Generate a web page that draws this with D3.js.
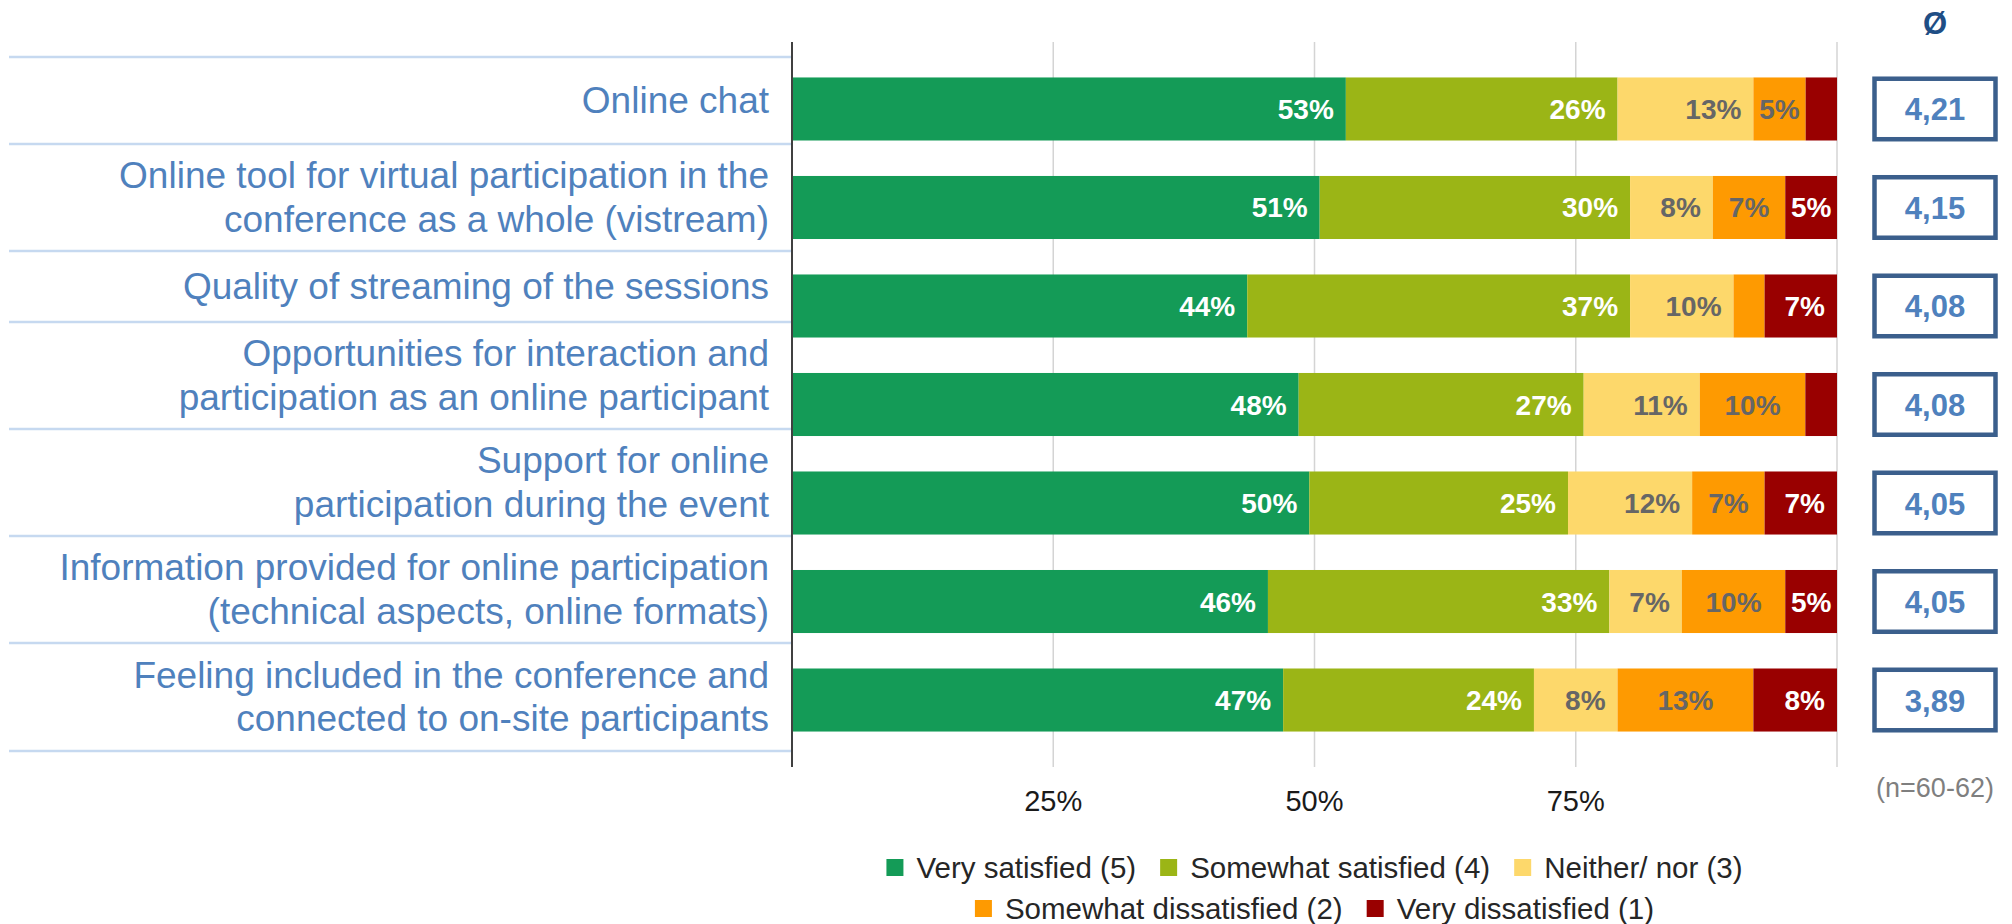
<!DOCTYPE html>
<html>
<head>
<meta charset="utf-8">
<script src="https://cdn.jsdelivr.net/npm/d3@7"></script>
<style>
  html, body { margin: 0; padding: 0; background: #fff; }
  svg { display: block; font-family: "Liberation Sans", Arial, sans-serif; }
</style>
</head>
<body>
<svg id="chart"></svg>
<script>
// data
const categories = [
  'Online chat',
  'Online tool for virtual participation in the\nconference as a whole (vistream)',
  'Quality of streaming of the sessions',
  'Opportunities for interaction and\nparticipation as an online participant',
  'Support for online\nparticipation during the event',
  'Information provided for online participation\n(technical aspects, online formats)',
  'Feeling included in the conference and\nconnected to on-site participants'
];
const seriesNames = ['Very satisfied (5)', 'Somewhat satisfied (4)', 'Neither/ nor (3)',
  'Somewhat dissatisfied (2)', 'Very dissatisfied (1)'];
const verySatisfied        = [53, 51, 44, 48, 50, 46, 47];
const somewhatSatisfied    = [26, 30, 37, 27, 25, 33, 24];
const neither              = [13, 8, 10, 11, 12, 7, 8];
const somewhatDissatisfied = [5, 7, 3, 10, 7, 10, 13];
const veryDissatisfied     = [3, 5, 7, 3, 7, 5, 8];
const averages = [4.21, 4.15, 4.08, 4.08, 4.05, 4.05, 3.89];
const xTicks = [0.25, 0.5, 0.75, 1];
const sampleNote = '(n=60-62)';

const colors = ['#149b57', '#9bb516', '#fdd86b', '#fe9a01', '#990000'];
const labelColors = ['#fff', '#fff', '#666', '#666', '#fff'];

const width = 2012, height = 924;
const svg = d3.select('#chart').attr('width', width).attr('height', height);

const keys = seriesNames;
const rows = categories.map((c, i) => ({
  cat: c,
  [keys[0]]: verySatisfied[i],
  [keys[1]]: somewhatSatisfied[i],
  [keys[2]]: neither[i],
  [keys[3]]: somewhatDissatisfied[i],
  [keys[4]]: veryDissatisfied[i]
}));

const stacked = d3.stack().keys(keys).offset(d3.stackOffsetExpand)(rows);

const x = d3.scaleLinear().domain([0, 1]).range([792, 1837]);
const y = d3.scaleBand().domain(categories).range([42, 767])
  .paddingInner(0.36).paddingOuter(0.36);

// left label table, rows are not evenly spaced in the original
const tableRules = [57, 144, 251, 322, 429, 536, 643, 751];
const labelFont = 37, labelLine = 43.7;

svg.append('g').attr('class', 'rules')
  .selectAll('line').data(tableRules).enter().append('line')
  .attr('x1', 9).attr('x2', 791)
  .attr('y1', d => d).attr('y2', d => d)
  .attr('stroke', '#c6d9f0').attr('stroke-width', 2.5);

const catText = svg.append('g').attr('class', 'cats')
  .selectAll('text').data(categories).enter().append('text')
  .attr('text-anchor', 'end')
  .attr('font-size', labelFont)
  .attr('fill', '#4f81bd');
catText.each(function (d, i) {
  const lines = d.split('\n');
  const mid = (tableRules[i] + tableRules[i + 1]) / 2;
  const y0 = mid + 12.5 - (lines.length - 1) * labelLine / 2;
  d3.select(this).selectAll('tspan').data(lines).enter().append('tspan')
    .attr('x', 769)
    .attr('y', (l, j) => y0 + j * labelLine)
    .text(l => l);
});

// gridlines
svg.append('g').attr('class', 'grid')
  .selectAll('line').data(xTicks).enter().append('line')
  .attr('x1', d => x(d)).attr('x2', d => x(d))
  .attr('y1', 42).attr('y2', 767)
  .attr('stroke', '#d4d4d4').attr('stroke-width', 1.5);

// tick labels
svg.append('g').attr('class', 'ticks')
  .selectAll('text').data(xTicks.filter(t => t < 1)).enter().append('text')
  .attr('x', d => x(d)).attr('y', 811)
  .attr('text-anchor', 'middle')
  .attr('font-size', 29)
  .attr('fill', '#1a1a1a')
  .text(d => d3.format('.0%')(d));

// bars
const layer = svg.append('g').attr('class', 'bars')
  .selectAll('g').data(stacked).enter().append('g')
  .attr('fill', (d, i) => colors[i]);

layer.selectAll('rect').data(d => d).enter().append('rect')
  .attr('x', d => x(d[0]))
  .attr('y', d => y(d.data.cat))
  .attr('width', d => x(d[1]) - x(d[0]))
  .attr('height', y.bandwidth());

// value labels
stacked.forEach((s, si) => {
  const g = svg.append('g').attr('class', 'vals');
  s.forEach(d => {
    const v = d.data[s.key];
    if (v <= 3) return;
    const t = g.append('text')
      .attr('font-size', 28)
      .attr('font-weight', 'bold')
      .attr('fill', labelColors[si])
      .attr('text-anchor', 'middle')
      .attr('y', y(d.data.cat) + y.bandwidth() / 2 + 10)
      .text(v + '%');
    const w = t.node().getComputedTextLength();
    const x0 = x(d[0]), x1 = x(d[1]);
    const mid = (x0 + x1) / 2;
    const cx = si === 3 ? mid : Math.max(mid, x1 - 12 - w / 2);
    t.attr('x', cx);
  });
});

// axis line
svg.append('line')
  .attr('x1', x(0)).attr('x2', x(0))
  .attr('y1', 42).attr('y2', 767)
  .attr('stroke', '#404040').attr('stroke-width', 2);

// average boxes
const boxX = 1874.5, boxW = 121, boxH = 60.5;
const fmtAvg = v => d3.format('.2f')(v).replace('.', ',');
svg.append('text')
  .attr('x', boxX + boxW / 2).attr('y', 34)
  .attr('text-anchor', 'middle')
  .attr('font-size', 31).attr('font-weight', 'bold')
  .attr('fill', '#1f4e85')
  .text('Ø');

const box = svg.append('g').attr('class', 'avg')
  .selectAll('g').data(averages).enter().append('g')
  .attr('transform', (d, i) => `translate(${boxX},${y(categories[i]) + y.bandwidth() / 2 - boxH / 2})`);
box.append('rect')
  .attr('width', boxW).attr('height', boxH)
  .attr('fill', '#fff')
  .attr('stroke', '#3b5f8c').attr('stroke-width', 4.5);
box.append('text')
  .attr('x', boxW / 2).attr('y', boxH / 2 + 11.5)
  .attr('text-anchor', 'middle')
  .attr('font-size', 31).attr('font-weight', 'bold')
  .attr('fill', '#4f81bd')
  .text(fmtAvg);

svg.append('text')
  .attr('x', boxX + boxW / 2).attr('y', 797)
  .attr('text-anchor', 'middle')
  .attr('font-size', 27)
  .attr('fill', '#7f7f7f')
  .text(sampleNote);

// legend, two centred rows
const legendRows = [[0, 1, 2], [3, 4]];
const legFont = 29.5, sw = 17, swGap = 13, itemGap = 24;
const legCx = (x(0) + x(1)) / 2;
legendRows.forEach((idx, r) => {
  const g = svg.append('g').attr('class', 'legend');
  const baseY = 878 + r * 41;
  let cur = 0;
  idx.forEach(k => {
    const it = g.append('g');
    it.append('rect').attr('width', sw).attr('height', sw)
      .attr('y', baseY - 19).attr('fill', colors[k]);
    const t = it.append('text').attr('x', sw + swGap).attr('y', baseY)
      .attr('font-size', legFont).attr('fill', '#262626')
      .text(seriesNames[k]);
    const w = sw + swGap + t.node().getComputedTextLength();
    it.attr('transform', `translate(${cur},0)`);
    cur += w + itemGap;
  });
  const total = cur - itemGap;
  g.attr('transform', `translate(${legCx - total / 2},0)`);
});
</script>
</body>
</html>
